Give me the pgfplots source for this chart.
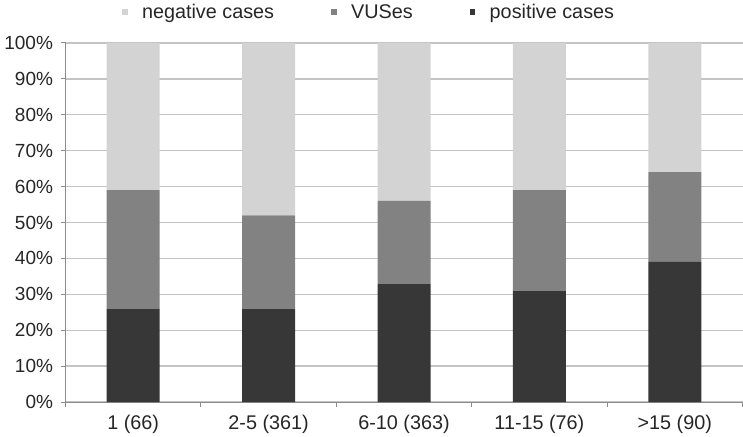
\documentclass[border=0pt]{standalone}
\usepackage{fontspec}
\setmainfont{Liberation Sans}
\usepackage{pgfplots}
\pgfplotsset{compat=1.18}
\definecolor{negc}{HTML}{D3D3D3}
\definecolor{vusc}{HTML}{828282}
\definecolor{posc}{HTML}{373737}
\definecolor{gridc}{HTML}{C4C4C4}
\definecolor{axc}{HTML}{8C8C8C}
\pgfplotsset{sqlegend/.style={legend image code/.code={\fill[##1] (0pt,-2.8pt) rectangle (5.6pt,2.8pt); \path[draw=none,fill=none] (0pt,0pt) -- (18pt,0pt);}}}
\begin{document}
\begin{tikzpicture}[x=1pt,y=1pt]
\begin{axis}[
  at={(65.5pt,34pt)}, anchor=south west,
  scale only axis, width=677pt, height=359pt,
  ybar stacked, bar width=53pt,
  xmin=-0.5, xmax=4.5, ymin=0, ymax=100,
  axis lines*=left,
  axis line style={color=axc, line width=1pt},
  xtick={0,1,2,3,4},
  xticklabels={1 (66),2-5 (361),6-10 (363),11-15 (76),>15 (90)},
  minor xtick={-0.5,0.5,1.5,2.5,3.5,4.5},
  major x tick style={draw=none},
  minor x tick style={color=axc, line width=1pt},
  minor tick length=5pt,
  ytick={0,10,...,100},
  y tick style={color=axc, line width=1pt},
  major tick length=5pt,
  tick align=outside,
  ymajorgrids,
  grid style={color=gridc, line width=1.3pt},
  yticklabel={\pgfmathprintnumber{\tick}\%},
  /pgf/number format/assume math mode=true,
  yticklabel style={font=\fontsize{19}{21}\selectfont, text=black!85, xshift=-4pt},
  xticklabel style={font=\fontsize{19.8}{22}\selectfont, text=black!85, yshift=-5pt},
  reverse legend,
  legend columns=3,
  legend style={at={(0.0835,1.0864)}, anchor=west, draw=none, fill=none,
    inner sep=0pt, outer sep=0pt,
    font=\fontsize{19.8}{22}\selectfont, text=black!85,
    cells={anchor=west, inner xsep=0pt},
    /tikz/every even column/.append style={column sep=55pt}},
]
\addplot[fill=posc, draw=none, sqlegend] coordinates {(0,26) (1,26) (2,33) (3,31) (4,39)};
\addplot[fill=vusc, draw=none, sqlegend] coordinates {(0,33) (1,26) (2,23) (3,28) (4,25)};
\addplot[fill=negc, draw=none, sqlegend] coordinates {(0,41) (1,48) (2,44) (3,41) (4,36)};
\legend{positive cases, VUSes, negative cases}
\end{axis}
\pgfresetboundingbox
\path (0,0) rectangle (743,436);
\end{tikzpicture}
\end{document}
